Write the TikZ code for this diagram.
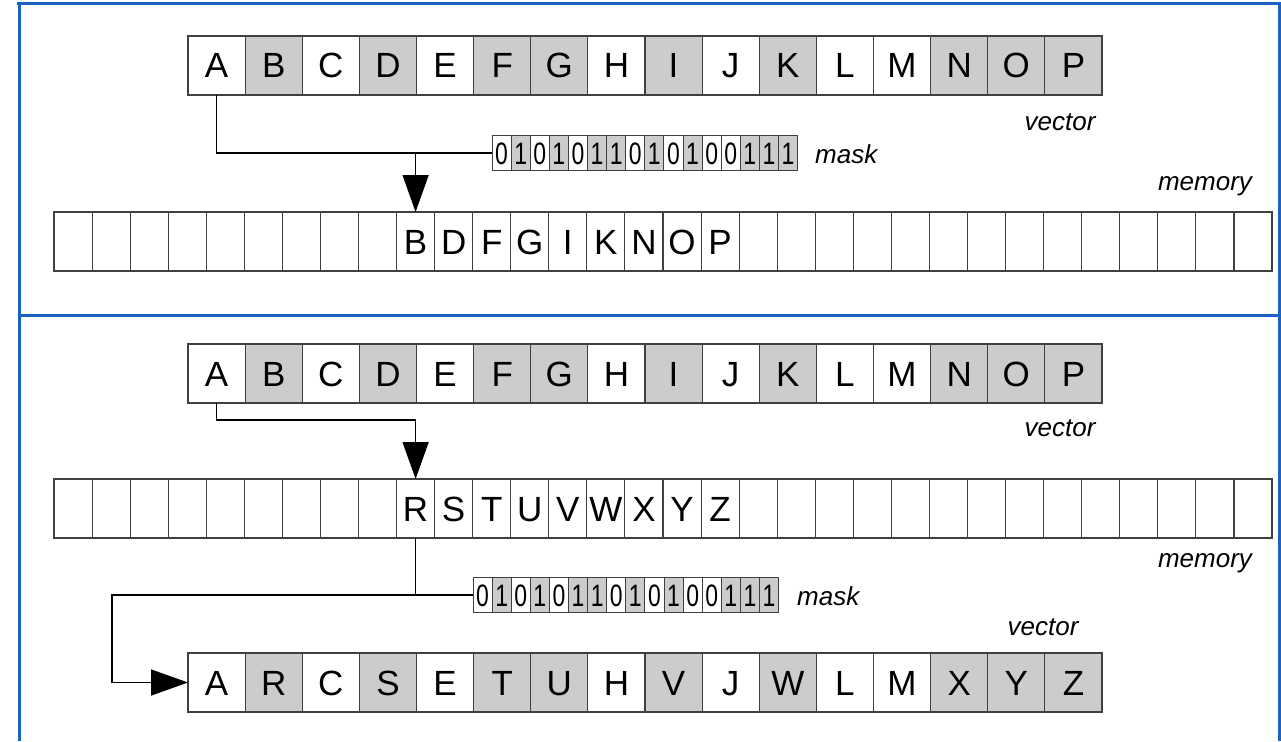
\documentclass[tikz,border=0pt]{standalone}
\usepackage{fontspec}
\setmainfont{Liberation Sans}
\usetikzlibrary{arrows.meta}
\definecolor{cellgray}{HTML}{CCCCCC}
\definecolor{frameblue}{HTML}{1A63C0}
\definecolor{edgegray}{HTML}{404040}
\tikzset{
  vcell/.style={draw=edgegray, line width=1.1pt, minimum width=57.125pt, minimum height=59pt,
    inner sep=0pt, outer sep=0pt, text height=25pt, text depth=0pt, font=\fontsize{35}{40}\selectfont},
  mcell/.style={draw=edgegray, line width=1.1pt, minimum width=38.0625pt, minimum height=59pt,
    inner sep=0pt, outer sep=0pt, text height=25pt, text depth=0pt, font=\fontsize{35}{40}\selectfont},
  kcell/.style={draw=edgegray, line width=1pt, minimum width=19.1pt, minimum height=35pt,
    inner sep=0pt, outer sep=0pt, text height=22pt, text depth=0pt, font=\fontsize{31}{36}\selectfont},
  g0/.style={fill=white},
  g1/.style={fill=cellgray},
  lbl/.style={font=\fontsize{26}{30}\selectfont\itshape, inner sep=0pt},
  conn/.style={draw=black, line width=1.4pt},
  arr/.style={conn, -{Triangle[length=37pt,width=26pt]}},
  framepen/.style={draw=frameblue, line width=3pt},
}
\newcommand{\sqz}[1]{\scalebox{0.74}[1]{#1}}
\begin{document}
\begin{tikzpicture}[x=1pt,y=-1pt]
\useasboundingbox (0,0) rectangle (1281,741);
\fill[white] (0,0) rectangle (1281,741);
% frame
\draw[framepen] (17,4) -- (1281,4);
\draw[framepen] (19,4) -- (19,741);
\draw[framepen] (19,315) -- (1281,315);
\draw[framepen] (1279.5,4) -- (1279.5,741);

% ---------- top panel ----------
\foreach \l/\b [count=\i] in {A/0,B/1,C/0,D/1,E/0,F/1,G/1,H/0,I/1,J/0,K/1,L/0,M/0,N/1,O/1,P/1}
  \node[vcell, g\b] (tv\i) at ({188+57.125*(\i-0.5)},65.5) {\l};
\foreach \d [count=\i] in {0,1,0,1,0,1,1,0,1,0,1,0,0,1,1,1}
  \node[kcell, g\d] (tk\i) at ({492+19.1*(\i-0.5)},153) {\sqz{\d}};
\foreach \i in {1,...,9,19,20,...,32}
  \node[mcell] (tm\i) at ({54+38.0625*(\i-0.5)},241.5) {};
\foreach \l [count=\i from 10] in {B,D,F,G,I,K,N,O,P}
  \node[mcell] (tm\i) at ({54+38.0625*(\i-0.5)},241.5) {\l};
\node[lbl] (tvl) at (1060,122) {vector};
\node[lbl, anchor=west] (tkl) at (815,154) {mask};
\node[lbl] (tml) at (1205,186) {memory};
\draw[conn] (tv1.south) |- (tk1.west);
\draw[arr] (tm10.north |- tk1.west) -- (tm10.north);

% ---------- bottom panel ----------
\foreach \l/\b [count=\i] in {A/0,B/1,C/0,D/1,E/0,F/1,G/1,H/0,I/1,J/0,K/1,L/0,M/0,N/1,O/1,P/1}
  \node[vcell, g\b] (bv\i) at ({188+57.125*(\i-0.5)},373.5) {\l};
\foreach \i in {1,...,9,19,20,...,32}
  \node[mcell] (bm\i) at ({54+38.0625*(\i-0.5)},508.5) {};
\foreach \l [count=\i from 10] in {R,S,T,U,V,W,X,Y,Z}
  \node[mcell] (bm\i) at ({54+38.0625*(\i-0.5)},508.5) {\l};
\foreach \d [count=\i] in {0,1,0,1,0,1,1,0,1,0,1,0,0,1,1,1}
  \node[kcell, g\d] (bk\i) at ({473+19.1*(\i-0.5)},595) {\sqz{\d}};
\foreach \l/\b [count=\i] in {A/0,R/1,C/0,S/1,E/0,T/1,U/1,H/0,V/1,J/0,W/1,L/0,M/0,X/1,Y/1,Z/1}
  \node[vcell, g\b] (cv\i) at ({188+57.125*(\i-0.5)},682.5) {\l};
\node[lbl] (bvl) at (1060,428) {vector};
\node[lbl] (bml) at (1205,563) {memory};
\node[lbl, anchor=west] (bkl) at (797,596) {mask};
\node[lbl] (cvl) at (1043,627) {vector};
\draw[arr] (bv1.south) -- ++(0,17) -| (bm10.north);
\draw[conn] (bm10.south) |- (bk1.west);
\coordinate (bturn) at (112,595);
\draw[arr] (bm10.south |- bk1.west) -- (bturn) |- (cv1.west);
\end{tikzpicture}
\end{document}
